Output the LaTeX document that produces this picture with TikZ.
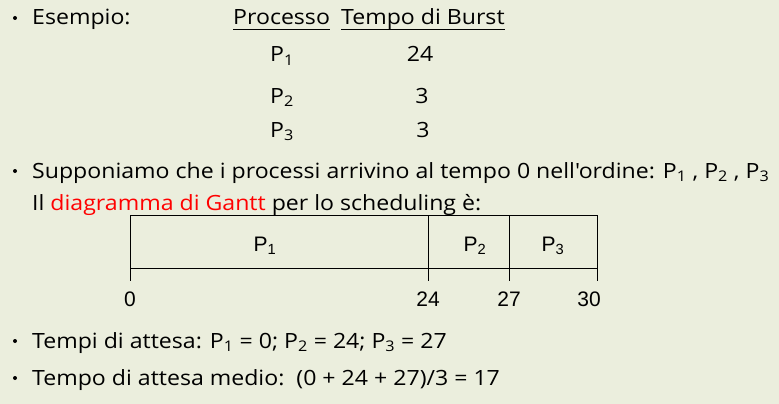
\documentclass[tikz,border=0pt]{standalone}
\usepackage{fontspec}
\setmainfont[FakeStretch=1.1,Ligatures=TeXOff]{Open Sans}
\newfontfamily\ganttfont{Liberation Sans}
\definecolor{bgc}{HTML}{EBEEDD}
\definecolor{hl}{HTML}{FF0000}
\begin{document}
\begin{tikzpicture}[x=1pt,y=-1pt,
  txt/.style={anchor=base west,inner sep=0pt,font=\fontsize{21}{25}\selectfont},
  ctxt/.style={anchor=base,inner sep=0pt,font=\fontsize{21}{25}\selectfont},
  bul/.style={circle,fill=black,inner sep=0pt,minimum size=4pt},
  cell/.style={draw,line width=0.7pt,minimum height=53pt,inner sep=0pt,anchor=north west},
  tick/.style={line width=0.7pt},
  glab/.style={anchor=base,inner sep=0pt,font=\ganttfont\fontsize{21}{25}\selectfont}]
\fill[bgc] (0,0) rectangle (779,404);
\useasboundingbox (0,0) rectangle (779,404);
% bullets
\node[bul] (b1) at (15,18) {};
\node[bul] (b2) at (15,171) {};
\node[bul] (b3) at (15,341) {};
\node[bul] (b4) at (15,378) {};
% first block
\node[txt] (es) at (32,25) {Esempio:};
\node[txt] (proc) at (233,25) {Processo};
\node[txt] (burst) at (341,25) {Tempo di Burst};
\draw[line width=0.9pt] ([yshift=-4pt]proc.base west) -- ([yshift=-4pt]proc.base east);
\draw[line width=0.9pt] ([yshift=-4pt]burst.base west) -- ([yshift=-4pt]burst.base east);
\node[ctxt] (r1p) at (282,62) {P\textsubscript{1}};
\node[ctxt] (r1t) at (420,62) {24};
\node[ctxt] (r2p) at (282,103) {P\textsubscript{2}};
\node[ctxt] (r2t) at (422,103) {3};
\node[ctxt] (r3p) at (282,137) {P\textsubscript{3}};
\node[ctxt] (r3t) at (423,137) {3};
% second block
\node[txt] (sup) at (32,178) {Supponiamo che i processi arrivino al tempo 0 nell'ordine: P\textsubscript{1} , P\textsubscript{2} , P\textsubscript{3}};
\node[txt] (il) at (32,210) {Il \textcolor{hl}{diagramma di Gantt} per lo scheduling è:};
% gantt
\node[cell,minimum width=298pt] (g1) at (130,215) {};
\node[cell,minimum width=81pt] (g2) at (428,215) {};
\node[cell,minimum width=88pt] (g3) at (509,215) {};
\node[glab] (g1l) at (265,251) {P\textsubscript{1}};
\node[glab] (g2l) at (475,251) {P\textsubscript{2}};
\node[glab] (g3l) at (553,251) {P\textsubscript{3}};
\draw[tick] (g1.south west) -- ++(0,12) coordinate (t0);
\draw[tick] (g1.south east) -- ++(0,12) coordinate (t24);
\draw[tick] (g2.south east) -- ++(0,12) coordinate (t27);
\draw[tick] (g3.south east) -- ++(0,12) coordinate (t30);
\node[glab] (l0) at (130,306) {0};
\node[glab] (l24) at (428,306) {24};
\node[glab] (l27) at (509,306) {27};
\node[glab] (l30) at (589,306) {30};
% third block
\node[txt] (att) at (32,348) {Tempi di attesa: P\textsubscript{1} = 0; P\textsubscript{2} = 24; P\textsubscript{3} = 27};
\node[txt] (med) at (32,385) {Tempo di attesa medio:\ \ (0 + 24 + 27)/3 = 17};
\end{tikzpicture}
\end{document}
